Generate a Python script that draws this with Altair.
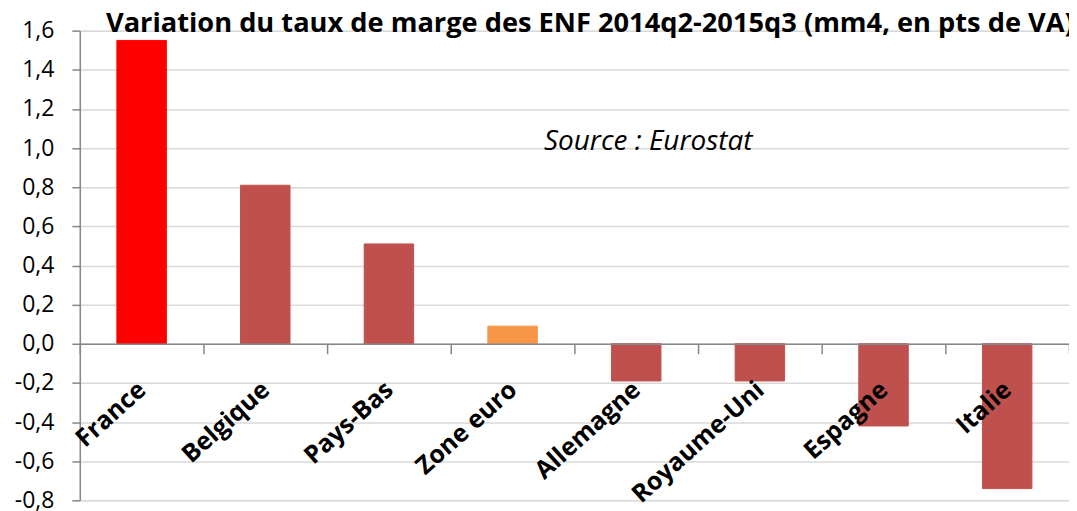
import altair as alt
import pandas as pd

countries = ["France", "Belgique", "Pays-Bas", "Zone euro", "Allemagne",
             "Royaume-Uni", "Espagne", "Italie"]
values = [1.55, 0.81, 0.51, 0.09, -0.19, -0.19, -0.42, -0.74]
colors = ["#FF0000", "#C0504D", "#C0504D", "#F79646", "#C0504D",
          "#C0504D", "#C0504D", "#C0504D"]
y_ticks = [-0.8, -0.6, -0.4, -0.2, 0.0, 0.2, 0.4, 0.6, 0.8, 1.0, 1.2, 1.4, 1.6]

title_text = "Variation du taux de marge des ENF 2014q2-2015q3 (mm4, en pts de VA)"
source_text = "Source : Eurostat"

df = pd.DataFrame({"pays": countries, "val": values, "col": colors})

W, H = 992, 471
FONT = "Open Sans"

x_axis = alt.Axis(
    title=None, orient="bottom", offset=-H / 3, zindex=2,
    domainColor="#868686", domainWidth=1.5,
    tickColor="#868686", tickWidth=1.5, tickSize=10, tickBand="extent",
    labelAngle=-42, labelAlign="right", labelBaseline="middle",
    labelPadding=32, labelFont=FONT, labelFontSize=25,
    labelFontWeight="bold", labelColor="black", grid=False,
    labelOverlap=False, labelBound=False,
)
y_axis = alt.Axis(
    title=None, values=y_ticks, labelOverlap=False,
    labelExpr="replace(replace(format(datum.value, '.1f'), '.', ','), '\u2212', '-')",
    domainColor="#868686", domainWidth=1.5,
    tickColor="#868686", tickWidth=1.5, tickSize=8,
    labelPadding=18, labelFont=FONT, labelFontSize=23, labelColor="black",
    grid=True, gridColor="#D9D9D9", gridWidth=1.5, zindex=0,
)
x_scale = alt.Scale(paddingInner=0, paddingOuter=0)
y_scale = alt.Scale(domain=[-0.8, 1.6], nice=False, zero=False)

bars = alt.Chart(df).mark_bar(strokeWidth=1, width=alt.RelativeBandSize(0.4)).encode(
    x=alt.X("pays:N", sort=countries, scale=x_scale, axis=x_axis),
    y=alt.Y("val:Q", scale=y_scale, axis=y_axis),
    y2=alt.datum(0),
    color=alt.Color("col:N", scale=None),
    stroke=alt.Color("col:N", scale=None),
)

src_df = pd.DataFrame({"pays": ["Allemagne"], "val": [1.03], "t": [source_text]})
source = alt.Chart(src_df).mark_text(
    font=FONT, fontSize=28, fontStyle="italic", color="black",
    align="center", baseline="middle", dx=12,
).encode(
    x=alt.X("pays:N", sort=countries, scale=x_scale, axis=x_axis),
    y=alt.Y("val:Q", scale=y_scale, axis=y_axis),
    text="t:N",
)

chart = alt.layer(bars, source).properties(
    width=W, height=H,
    title=alt.TitleParams(
        text=title_text, anchor="end", font=FONT, fontSize=27.3,
        fontWeight="bold", color="black", offset=-18, dx=4,
    ),
    autosize=alt.AutoSizeParams(type="none"),
    padding={"left": 72, "top": 22, "right": 0, "bottom": 10},
).configure_view(stroke=None).configure(background="white")

chart.save("out.html", embed_options={"renderer": "svg", "actions": False})
